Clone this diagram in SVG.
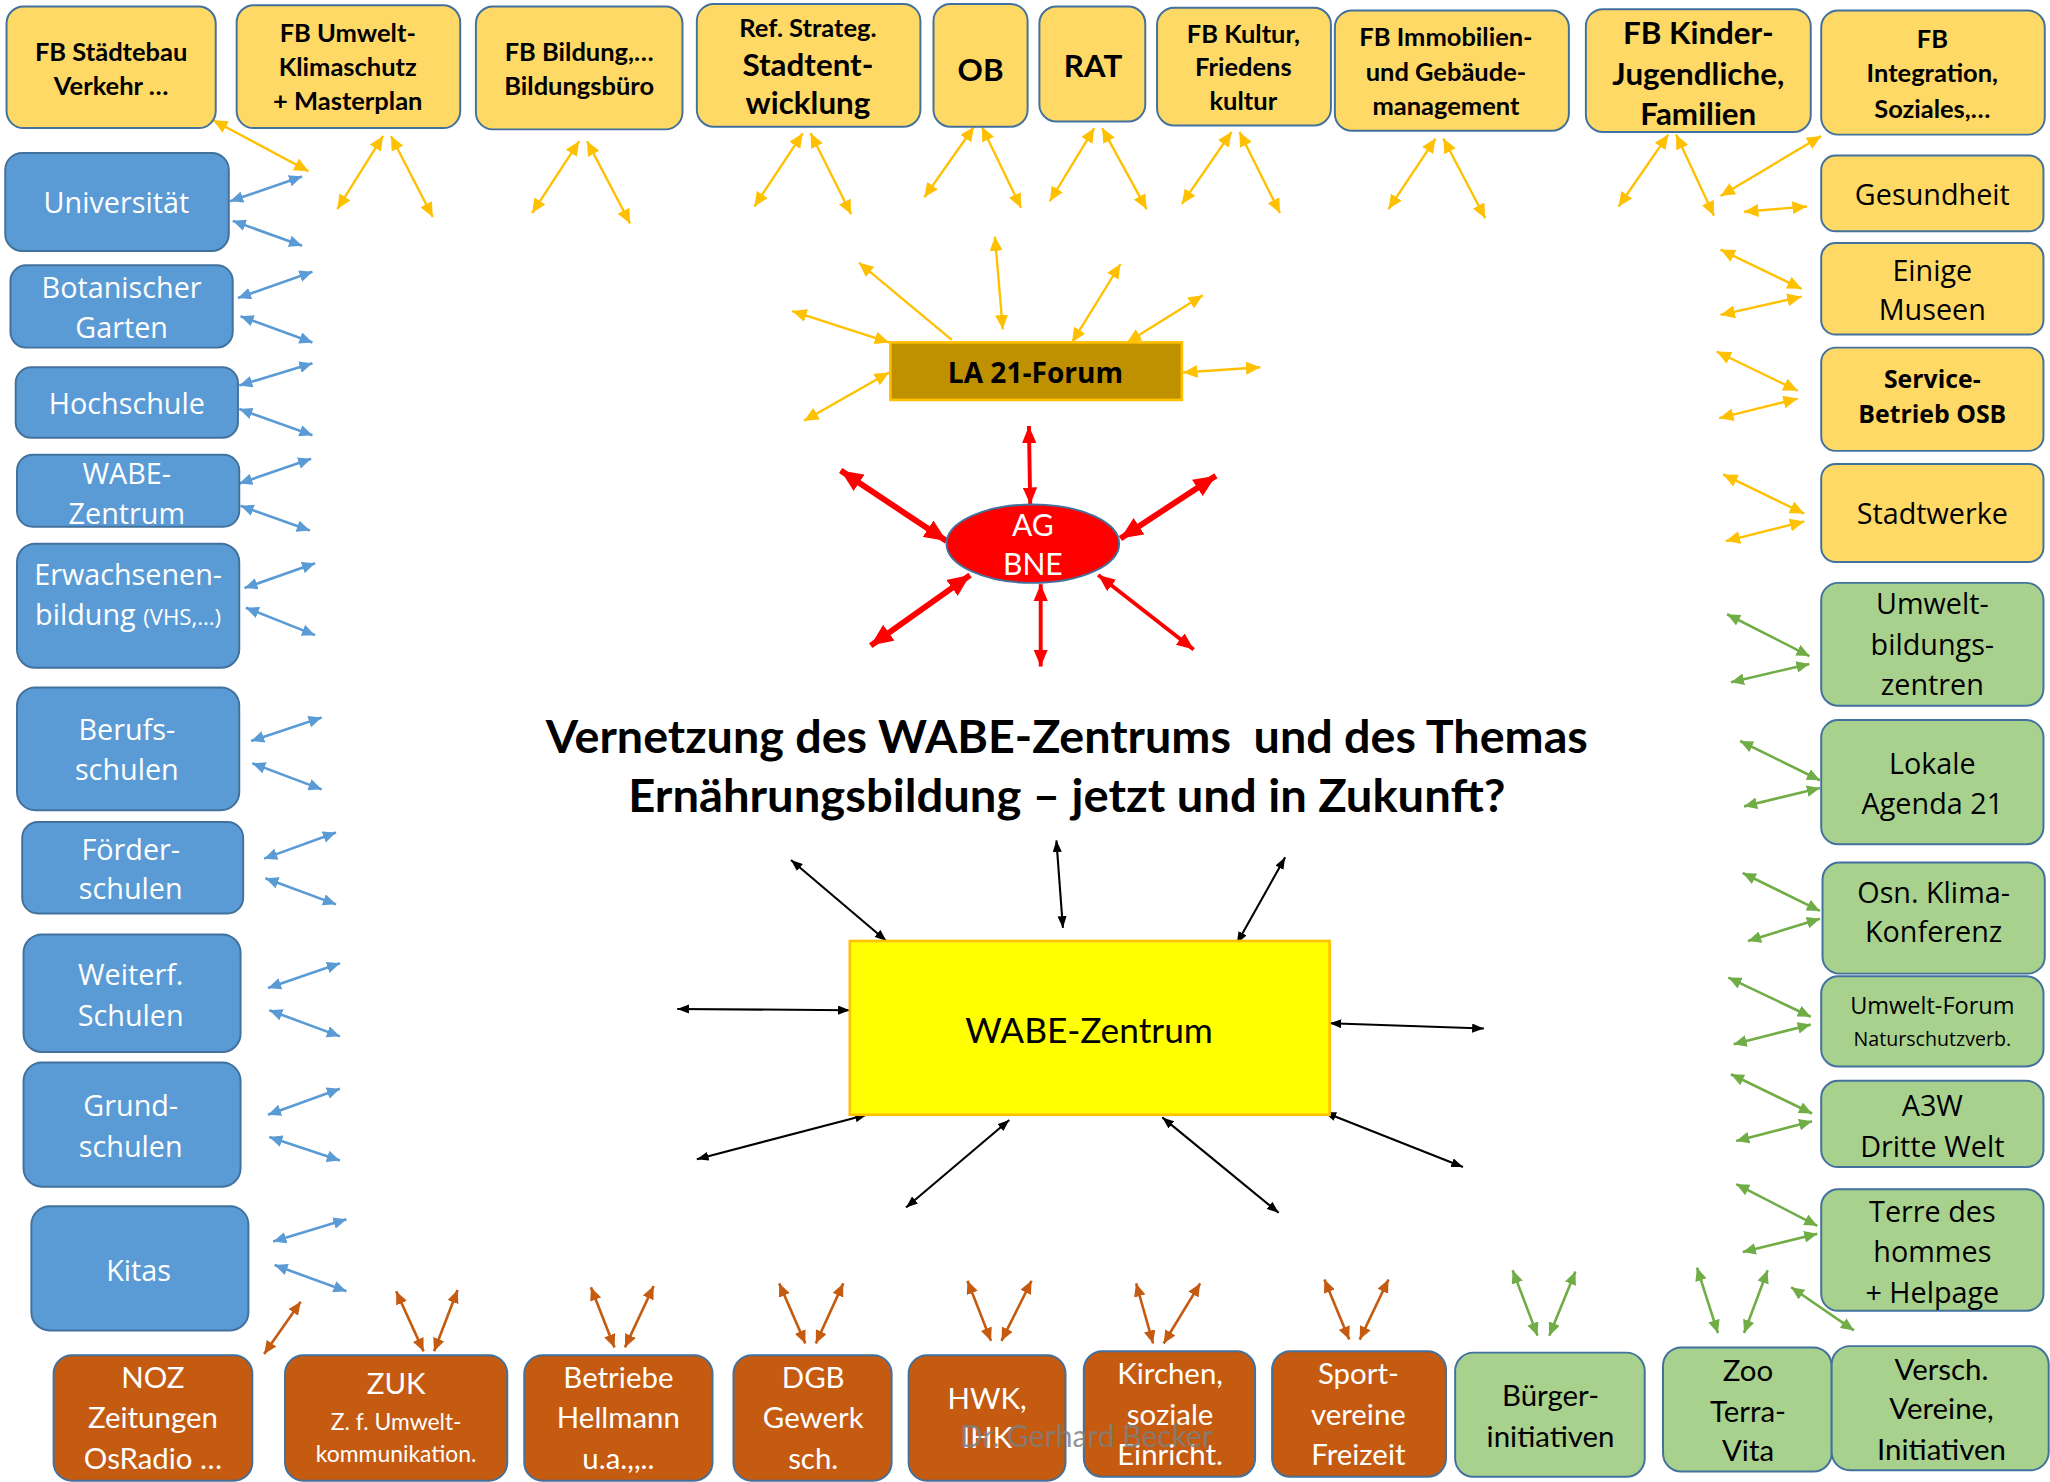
<svg xmlns="http://www.w3.org/2000/svg" width="2050" height="1482" viewBox="0 0 2050 1482">
<defs>
<style>
.bx{stroke:#41719C;stroke-width:1.5}
.yl{fill:#FFD966}.bl{fill:#5B9BD5}.gr{fill:#A9D18E}.or{fill:#C55A11}
text{text-anchor:middle}
.cb{font-family:Lato,"Liberation Sans",sans-serif;font-weight:700}
.cr{font-family:Lato,"Liberation Sans",sans-serif;font-weight:400}
.sr{font-family:"Open Sans","Liberation Sans",sans-serif;font-weight:400}
.sb{font-family:"Open Sans","Liberation Sans",sans-serif;font-weight:700}
.k{fill:#000}.w{fill:#fff}
.pre{white-space:pre}
.cy{stroke:#FFC000;stroke-width:1.8;fill:none;marker-start:url(#my);marker-end:url(#my)}
.cg{stroke:#70AD47;stroke-width:2;fill:none;marker-start:url(#mg);marker-end:url(#mg)}
.co{stroke:#C55A11;stroke-width:2;fill:none;marker-start:url(#mo);marker-end:url(#mo)}
.cbl{stroke:#5B9BD5;stroke-width:2;fill:none;marker-start:url(#mb);marker-end:url(#mb)}
.ck{stroke:#000;stroke-width:1.6;fill:none;marker-start:url(#mk);marker-end:url(#mk)}
.cr1{stroke:#FF0000;stroke-width:4.5;fill:none;marker-start:url(#mr);marker-end:url(#mr)}
.cr2{stroke:#FF0000;stroke-width:3;fill:none;marker-start:url(#mr2);marker-end:url(#mr2)}
</style>
<marker id="my" viewBox="0 0 10 10" refX="10" refY="5" markerWidth="11" markerHeight="10" markerUnits="userSpaceOnUse" orient="auto-start-reverse" preserveAspectRatio="none"><path d="M0,0 L10,5 L0,10 z" fill="#FFC000"/></marker>
<marker id="my1" viewBox="0 0 10 10" refX="10" refY="5" markerWidth="11" markerHeight="10" markerUnits="userSpaceOnUse" orient="auto" preserveAspectRatio="none"><path d="M0,0 L10,5 L0,10 z" fill="#FFC000"/></marker>
<marker id="mg" viewBox="0 0 10 10" refX="10" refY="5" markerWidth="10" markerHeight="9" markerUnits="userSpaceOnUse" orient="auto-start-reverse" preserveAspectRatio="none"><path d="M0,0 L10,5 L0,10 z" fill="#70AD47"/></marker>
<marker id="mo" viewBox="0 0 10 10" refX="10" refY="5" markerWidth="10" markerHeight="9" markerUnits="userSpaceOnUse" orient="auto-start-reverse" preserveAspectRatio="none"><path d="M0,0 L10,5 L0,10 z" fill="#C55A11"/></marker>
<marker id="mb" viewBox="0 0 10 10" refX="10" refY="5" markerWidth="10" markerHeight="9" markerUnits="userSpaceOnUse" orient="auto-start-reverse" preserveAspectRatio="none"><path d="M0,0 L10,5 L0,10 z" fill="#5B9BD5"/></marker>
<marker id="mk" viewBox="0 0 10 10" refX="10" refY="5" markerWidth="9" markerHeight="7" markerUnits="userSpaceOnUse" orient="auto-start-reverse" preserveAspectRatio="none"><path d="M0,0 L10,5 L0,10 z" fill="#000"/></marker>
<marker id="mr" viewBox="0 0 10 10" refX="10" refY="5" markerWidth="17" markerHeight="15" markerUnits="userSpaceOnUse" orient="auto-start-reverse" preserveAspectRatio="none"><path d="M0,0 L10,5 L0,10 z" fill="#FF0000"/></marker>
<marker id="mr2" viewBox="0 0 10 10" refX="10" refY="5" markerWidth="13" markerHeight="11" markerUnits="userSpaceOnUse" orient="auto-start-reverse" preserveAspectRatio="none"><path d="M0,0 L10,5 L0,10 z" fill="#FF0000"/></marker>
</defs>
<rect width="2050" height="1482" fill="#fff"/>
<g transform="scale(1.3074,1.3069)">

<g id="connectors">
<line class="cy" x1="163" y1="92" x2="236" y2="131"/>
<line class="cy" x1="293" y1="104" x2="258" y2="160"/><line class="cy" x1="299" y1="104" x2="331" y2="166"/>
<line class="cy" x1="443" y1="108" x2="407" y2="163"/><line class="cy" x1="449" y1="108" x2="482" y2="171"/>
<line class="cy" x1="614" y1="102" x2="577" y2="158"/><line class="cy" x1="620" y1="102" x2="651" y2="164"/>
<line class="cy" x1="745" y1="97" x2="707" y2="151"/><line class="cy" x1="751" y1="97" x2="781" y2="159"/>
<line class="cy" x1="837" y1="98" x2="803" y2="154"/><line class="cy" x1="843" y1="98" x2="877" y2="160"/>
<line class="cy" x1="942" y1="101" x2="904" y2="156"/><line class="cy" x1="948" y1="101" x2="979" y2="163"/>
<line class="cy" x1="1098" y1="106" x2="1062" y2="160"/><line class="cy" x1="1104" y1="106" x2="1136" y2="167"/>
<line class="cy" x1="1276" y1="103" x2="1238" y2="158"/><line class="cy" x1="1282" y1="103" x2="1311" y2="165"/>
<line class="cy" x1="1393" y1="104" x2="1316" y2="150"/>
<line class="cy" x1="1334" y1="162" x2="1382" y2="158"/>
<line class="cy" x1="1378" y1="221" x2="1316" y2="191"/><line class="cy" x1="1378" y1="227" x2="1316" y2="241"/>
<line class="cy" x1="1375" y1="299" x2="1313" y2="269"/><line class="cy" x1="1375" y1="305" x2="1315" y2="320"/>
<line class="cy" x1="1380" y1="393" x2="1318" y2="363"/><line class="cy" x1="1380" y1="399" x2="1320" y2="414"/>
<line class="cy" x1="680" y1="262" x2="606" y2="238"/>
<line class="cy" x1="767" y1="252" x2="761" y2="181"/>
<line class="cy" x1="820" y1="262" x2="857" y2="202"/>
<line class="cy" x1="862" y1="262" x2="920" y2="226"/>
<line class="cy" x1="905" y1="285" x2="964" y2="281"/>
<line class="cy" x1="680" y1="285" x2="615" y2="322"/>
<line stroke="#FFC000" stroke-width="1.8" marker-end="url(#my1)" x1="728" y1="260" x2="657" y2="201"/>

<line class="cg" x1="1384" y1="502" x2="1321" y2="470"/><line class="cg" x1="1384" y1="508" x2="1324" y2="522"/>
<line class="cg" x1="1392" y1="597" x2="1331" y2="567"/><line class="cg" x1="1392" y1="603" x2="1334" y2="617"/>
<line class="cg" x1="1392" y1="697" x2="1333" y2="668"/><line class="cg" x1="1392" y1="703" x2="1337" y2="720"/>
<line class="cg" x1="1385" y1="778" x2="1322" y2="748"/><line class="cg" x1="1385" y1="784" x2="1326" y2="799"/>
<line class="cg" x1="1386" y1="852" x2="1324" y2="822"/><line class="cg" x1="1386" y1="858" x2="1328" y2="873"/>
<line class="cg" x1="1390" y1="938" x2="1328" y2="906"/><line class="cg" x1="1390" y1="944" x2="1333" y2="958"/>
<line class="cg" x1="1370" y1="985" x2="1418" y2="1018"/>
<line class="cg" x1="1157" y1="972" x2="1176" y2="1022"/><line class="cg" x1="1205" y1="973" x2="1185" y2="1022"/>
<line class="cg" x1="1298" y1="970" x2="1314" y2="1020"/><line class="cg" x1="1352" y1="972" x2="1334" y2="1020"/>

<line class="co" x1="202" y1="1036" x2="230" y2="996"/>
<line class="co" x1="324" y1="1034" x2="303" y2="988"/><line class="co" x1="332" y1="1034" x2="350" y2="987"/>
<line class="co" x1="470" y1="1031" x2="452" y2="985"/><line class="co" x1="478" y1="1031" x2="500" y2="984"/>
<line class="co" x1="616" y1="1028" x2="596" y2="982"/><line class="co" x1="624" y1="1028" x2="645" y2="982"/>
<line class="co" x1="758" y1="1026" x2="740" y2="980"/><line class="co" x1="766" y1="1026" x2="789" y2="980"/>
<line class="co" x1="882" y1="1028" x2="869" y2="982"/><line class="co" x1="890" y1="1028" x2="918" y2="982"/>
<line class="co" x1="1032" y1="1025" x2="1013" y2="979"/><line class="co" x1="1040" y1="1025" x2="1062" y2="979"/>

<line class="cbl" x1="176" y1="154" x2="231" y2="135"/><line class="cbl" x1="178" y1="169" x2="231" y2="188"/>
<line class="cbl" x1="182" y1="228" x2="239" y2="208"/><line class="cbl" x1="184" y1="242" x2="239" y2="262"/>
<line class="cbl" x1="183" y1="295" x2="239" y2="278"/><line class="cbl" x1="183" y1="313" x2="239" y2="333"/>
<line class="cbl" x1="183" y1="370" x2="238" y2="351"/><line class="cbl" x1="184" y1="387" x2="237" y2="406"/>
<line class="cbl" x1="187" y1="450" x2="241" y2="431"/><line class="cbl" x1="188" y1="465" x2="241" y2="486"/>
<line class="cbl" x1="192" y1="567" x2="246" y2="549"/><line class="cbl" x1="193" y1="584" x2="246" y2="604"/>
<line class="cbl" x1="202" y1="657" x2="257" y2="637"/><line class="cbl" x1="203" y1="672" x2="257" y2="692"/>
<line class="cbl" x1="205" y1="756" x2="260" y2="737"/><line class="cbl" x1="206" y1="773" x2="260" y2="793"/>
<line class="cbl" x1="205" y1="853" x2="260" y2="833"/><line class="cbl" x1="206" y1="870" x2="260" y2="888"/>
<line class="cbl" x1="209" y1="950" x2="265" y2="933"/><line class="cbl" x1="210" y1="968" x2="265" y2="988"/>

<line class="cr1" x1="724" y1="414" x2="643" y2="360"/>
<line class="cr1" x1="857" y1="412" x2="930" y2="364"/>
<line class="cr2" x1="788" y1="386" x2="787" y2="326"/>
<line class="cr1" x1="742" y1="440" x2="666" y2="494"/>
<line class="cr2" x1="796" y1="447" x2="796" y2="510"/>
<line class="cr2" x1="840" y1="440" x2="913" y2="497"/>

<line class="ck" x1="678" y1="720" x2="605" y2="658"/>
<line class="ck" x1="813" y1="710" x2="808" y2="643"/>
<line class="ck" x1="946" y1="722" x2="983" y2="656"/>
<line class="ck" x1="650" y1="773" x2="518" y2="772"/>
<line class="ck" x1="1017" y1="783" x2="1135" y2="787"/>
<line class="ck" x1="663" y1="853" x2="533" y2="887"/>
<line class="ck" x1="772" y1="857" x2="693" y2="924"/>
<line class="ck" x1="889" y1="855" x2="978" y2="928"/>
<line class="ck" x1="1013" y1="851" x2="1119" y2="893"/>
</g>

<g id="title"><text class="cb k pre" font-size="35.5" x="816" y="576" textLength="797" lengthAdjust="spacingAndGlyphs" xml:space="preserve">Vernetzung des WABE-Zentrums  und des Themas</text>
<text class="cb k" font-size="35.5" x="816" y="621" textLength="671" lengthAdjust="spacingAndGlyphs">Ernährungsbildung – jetzt und in Zukunft?</text></g>

<g id="n-staedtebau"><rect class="bx yl" x="5" y="5" width="160" height="93" rx="13"/><text class="cb k" font-size="19.5"><tspan x="85" y="47">FB Städtebau</tspan><tspan x="85" y="73">Verkehr …</tspan></text></g>
<g id="n-umwelt"><rect class="bx yl" x="181" y="4" width="171" height="94" rx="13"/><text class="cb k" font-size="19.5"><tspan x="266" y="32">FB Umwelt-</tspan><tspan x="266" y="58">Klimaschutz</tspan><tspan x="266" y="84">+ Masterplan</tspan></text></g>
<g id="n-bildung"><rect class="bx yl" x="364" y="5" width="158" height="94" rx="13"/><text class="cb k" font-size="19.5"><tspan x="443" y="47">FB Bildung,…</tspan><tspan x="443" y="73">Bildungsbüro</tspan></text></g>
<g id="n-ref"><rect class="bx yl" x="533" y="3" width="171" height="94" rx="13"/><text class="cb k"><tspan x="618" y="28" font-size="19.5">Ref. Strateg.</tspan><tspan x="618" y="58" font-size="24">Stadtent-</tspan><tspan x="618" y="87" font-size="24">wicklung</tspan></text></g>
<g id="n-ob"><rect class="bx yl" x="714" y="3" width="72" height="94" rx="13"/><text class="cb k" font-size="24" x="750" y="62">OB</text></g>
<g id="n-rat"><rect class="bx yl" x="795" y="5" width="81" height="88" rx="13"/><text class="cb k" font-size="24" x="836" y="59">RAT</text></g>
<g id="n-kultur"><rect class="bx yl" x="885" y="6" width="133" height="90" rx="13"/><text class="cb k" font-size="19.5"><tspan x="951" y="33">FB Kultur,</tspan><tspan x="951" y="58">Friedens</tspan><tspan x="951" y="84">kultur</tspan></text></g>
<g id="n-immobilien"><rect class="bx yl" x="1021" y="8" width="179" height="92" rx="13"/><text class="cb k" font-size="19.5"><tspan x="1106" y="35">FB Immobilien-</tspan><tspan x="1106" y="62">und Gebäude-</tspan><tspan x="1106" y="88">management</tspan></text></g>
<g id="n-kinder"><rect class="bx yl" x="1213" y="7" width="172" height="94" rx="13"/><text class="cb k" font-size="24"><tspan x="1299" y="34">FB Kinder-</tspan><tspan x="1299" y="65">Jugendliche,</tspan><tspan x="1299" y="96">Familien</tspan></text></g>
<g id="n-integration"><rect class="bx yl" x="1393" y="8" width="171" height="95" rx="13"/><text class="cb k" font-size="19.5"><tspan x="1478" y="37">FB</tspan><tspan x="1478" y="63">Integration,</tspan><tspan x="1478" y="90">Soziales,…</tspan></text></g>

<g id="n-gesundheit"><rect class="bx yl" x="1393" y="119" width="170" height="58" rx="11"/><text class="sr k" font-size="22" x="1478" y="157">Gesundheit</text></g>
<g id="n-museen"><rect class="bx yl" x="1393" y="186" width="170" height="70" rx="11"/><text class="sr k" font-size="22"><tspan x="1478" y="215">Einige</tspan><tspan x="1478" y="245">Museen</tspan></text></g>
<g id="n-osb"><rect class="bx yl" x="1393" y="266" width="170" height="79" rx="11"/><text class="sb k" font-size="19"><tspan x="1478" y="297">Service-</tspan><tspan x="1478" y="324">Betrieb OSB</tspan></text></g>
<g id="n-stadtwerke"><rect class="bx yl" x="1393" y="355" width="170" height="75" rx="11"/><text class="sr k" font-size="22" x="1478" y="401">Stadtwerke</text></g>

<g id="n-umweltbildung"><rect class="bx gr" x="1393" y="446" width="170" height="94" rx="13"/><text class="sr k" font-size="22"><tspan x="1478" y="470">Umwelt-</tspan><tspan x="1478" y="501">bildungs-</tspan><tspan x="1478" y="532">zentren</tspan></text></g>
<g id="n-agenda"><rect class="bx gr" x="1393" y="551" width="170" height="95" rx="13"/><text class="sr k" font-size="22"><tspan x="1478" y="592">Lokale</tspan><tspan x="1478" y="623">Agenda 21</tspan></text></g>
<g id="n-klima"><rect class="bx gr" x="1394" y="660" width="170" height="85" rx="13"/><text class="sr k" font-size="22"><tspan x="1479" y="691">Osn. Klima-</tspan><tspan x="1479" y="721">Konferenz</tspan></text></g>
<g id="n-forum"><rect class="bx gr" x="1393" y="747" width="170" height="69" rx="13"/><text class="sr k"><tspan x="1478" y="776" font-size="18">Umwelt-Forum</tspan><tspan x="1478" y="800" font-size="15">Naturschutzverb.</tspan></text></g>
<g id="n-a3w"><rect class="bx gr" x="1393" y="827" width="170" height="66" rx="13"/><text class="sr k" font-size="22"><tspan x="1478" y="854">A3W</tspan><tspan x="1478" y="885">Dritte Welt</tspan></text></g>
<g id="n-terre"><rect class="bx gr" x="1393" y="910" width="170" height="93" rx="13"/><text class="sr k" font-size="22"><tspan x="1478" y="935">Terre des</tspan><tspan x="1478" y="966">hommes</tspan><tspan x="1478" y="997">+ Helpage</tspan></text></g>

<g id="n-uni"><rect class="bx bl" x="4" y="117" width="171" height="75" rx="13"/><text class="sr w" font-size="22" x="89" y="163">Universität</text></g>
<g id="n-botanik"><rect class="bx bl" x="8" y="203" width="170" height="63" rx="12"/><text class="sr w" font-size="22"><tspan x="93" y="228">Botanischer</tspan><tspan x="93" y="259">Garten</tspan></text></g>
<g id="n-hochschule"><rect class="bx bl" x="12" y="281" width="170" height="54" rx="12"/><text class="sr w" font-size="22" x="97" y="317">Hochschule</text></g>
<g id="n-wabe-l"><rect class="bx bl" x="13" y="348" width="170" height="55" rx="12"/><text class="sr w" font-size="22"><tspan x="97" y="370">WABE-</tspan><tspan x="97" y="401">Zentrum</tspan></text></g>
<g id="n-erwachsenen"><rect class="bx bl" x="13" y="416" width="170" height="95" rx="14"/><text class="sr w" font-size="22"><tspan x="98" y="448">Erwachsenen-</tspan><tspan x="98" y="478">bildung <tspan font-size="17">(VHS,…)</tspan></tspan></text></g>
<g id="n-berufs"><rect class="bx bl" x="13" y="526" width="170" height="94" rx="14"/><text class="sr w" font-size="22"><tspan x="97" y="566">Berufs-</tspan><tspan x="97" y="597">schulen</tspan></text></g>
<g id="n-foerder"><rect class="bx bl" x="17" y="629" width="169" height="70" rx="12"/><text class="sr w" font-size="22"><tspan x="100" y="658">Förder-</tspan><tspan x="100" y="688">schulen</tspan></text></g>
<g id="n-weiterf"><rect class="bx bl" x="18" y="715" width="166" height="90" rx="14"/><text class="sr w" font-size="22"><tspan x="100" y="754">Weiterf.</tspan><tspan x="100" y="785">Schulen</tspan></text></g>
<g id="n-grund"><rect class="bx bl" x="18" y="813" width="166" height="95" rx="14"/><text class="sr w" font-size="22"><tspan x="100" y="854">Grund-</tspan><tspan x="100" y="885">schulen</tspan></text></g>
<g id="n-kitas"><rect class="bx bl" x="24" y="923" width="166" height="95" rx="14"/><text class="sr w" font-size="22" x="106" y="980">Kitas</text></g>

<g id="n-noz"><rect class="bx or" x="41" y="1037" width="152" height="96" rx="14"/><text class="cr w" font-size="22.5"><tspan x="117" y="1062">NOZ</tspan><tspan x="117" y="1093">Zeitungen</tspan><tspan x="117" y="1124">OsRadio …</tspan></text></g>
<g id="n-zuk"><rect class="bx or" x="218" y="1037" width="170" height="96" rx="14"/><text class="cr w"><tspan x="303" y="1067" font-size="22.5">ZUK</tspan><tspan x="303" y="1094" font-size="17.5">Z. f. Umwelt-</tspan><tspan x="303" y="1119" font-size="17.5">kommunikation.</tspan></text></g>
<g id="n-betriebe"><rect class="bx or" x="401" y="1037" width="144" height="96" rx="14"/><text class="cr w" font-size="22.5"><tspan x="473" y="1062">Betriebe</tspan><tspan x="473" y="1093">Hellmann</tspan><tspan x="473" y="1124">u.a.,,..</tspan></text></g>
<g id="n-dgb"><rect class="bx or" x="561" y="1037" width="121" height="96" rx="14"/><text class="cr w" font-size="22.5"><tspan x="622" y="1062">DGB</tspan><tspan x="622" y="1093">Gewerk</tspan><tspan x="622" y="1124">sch.</tspan></text></g>
<g id="n-hwk"><rect class="bx or" x="695" y="1037" width="120" height="96" rx="14"/><text class="cr w" font-size="22.5"><tspan x="755" y="1078">HWK,</tspan><tspan x="755" y="1108">IHK</tspan></text></g>
<g id="n-kirchen"><rect class="bx or" x="829" y="1034" width="131" height="96" rx="14"/><text class="cr w" font-size="22.5"><tspan x="895" y="1059">Kirchen,</tspan><tspan x="895" y="1090">soziale</tspan><tspan x="895" y="1121">Einricht.</tspan></text></g>
<g id="n-sport"><rect class="bx or" x="973" y="1034" width="133" height="96" rx="14"/><text class="cr w" font-size="22.5"><tspan x="1039" y="1059">Sport-</tspan><tspan x="1039" y="1090">vereine</tspan><tspan x="1039" y="1121">Freizeit</tspan></text></g>
<g id="n-buerger"><rect class="bx gr" x="1113" y="1035" width="145" height="95" rx="14"/><text class="cr k" font-size="22.5"><tspan x="1186" y="1076">Bürger-</tspan><tspan x="1186" y="1107">initiativen</tspan></text></g>
<g id="n-zoo"><rect class="bx gr" x="1272" y="1031" width="129" height="95" rx="14"/><text class="cr k" font-size="22.5"><tspan x="1337" y="1057">Zoo</tspan><tspan x="1337" y="1088">Terra-</tspan><tspan x="1337" y="1118">Vita</tspan></text></g>
<g id="n-vereine"><rect class="bx gr" x="1401" y="1030" width="166" height="95" rx="14"/><text class="cr k" font-size="22.5"><tspan x="1485" y="1056">Versch.</tspan><tspan x="1485" y="1086">Vereine,</tspan><tspan x="1485" y="1117">Initiativen</tspan></text></g>

<g id="n-la21"><rect x="681" y="262" width="223" height="44" fill="#BF9000" stroke="#FFC000" stroke-width="2"/><text class="sb k" font-size="21.5" x="792" y="293">LA 21-Forum</text></g>
<g id="n-agbne"><ellipse cx="790" cy="416" rx="66" ry="30" fill="#FF0000" stroke="#41719C" stroke-width="1.5"/><text class="cr w" font-size="23"><tspan x="790" y="410">AG</tspan><tspan x="790" y="440">BNE</tspan></text></g>
<g id="n-wabe"><rect x="650" y="720" width="367" height="133" fill="#FFFF00" stroke="#FFC000" stroke-width="2"/><text class="cr k" font-size="27" x="833" y="798">WABE-Zentrum</text></g>

<text class="cr" font-size="23" x="831" y="1107" fill="#7F7F7F" fill-opacity="0.85">Dr. Gerhard Becker</text>
</g>
</svg>
